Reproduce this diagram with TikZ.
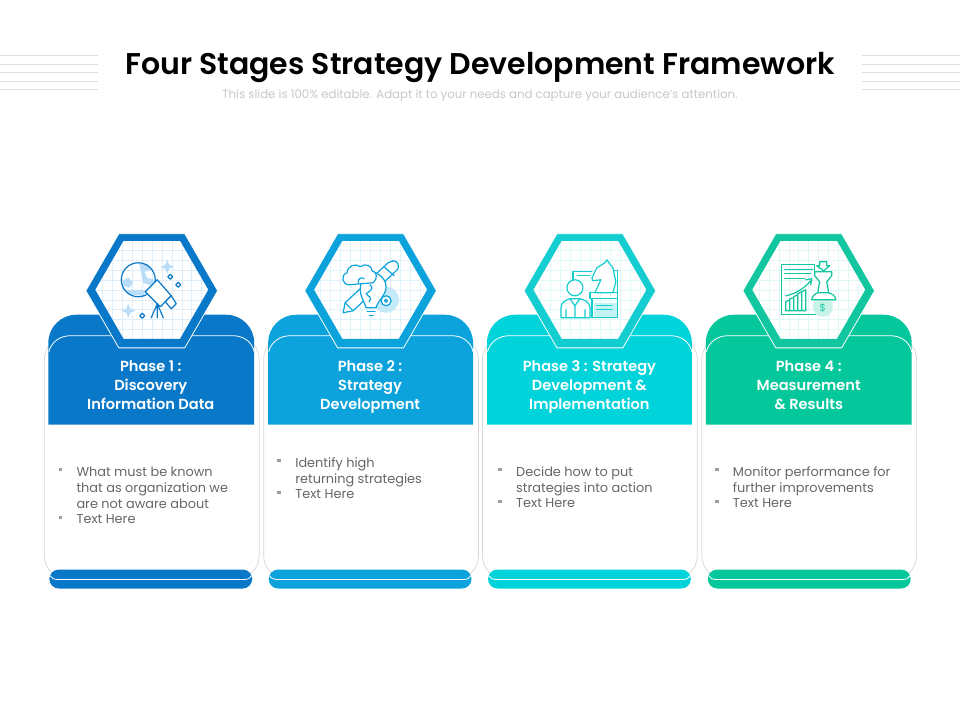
\documentclass[tikz,border=0pt]{standalone}
\usepackage{fontspec}
\setmainfont[BoldFont={Poppins SemiBold}]{Poppins}
\usetikzlibrary{shapes,positioning,calc}

\definecolor{phaseone}{HTML}{0A78C8}
\definecolor{phasetwo}{HTML}{0CA3DD}
\definecolor{phasethree}{HTML}{00D3DA}
\definecolor{phasefour}{HTML}{04C79C}
\definecolor{ringthree}{HTML}{14CDD0}
\definecolor{ringfour}{HTML}{12C6A0}
\definecolor{patchone}{HTML}{B9DDF8}
\definecolor{patchtwo}{HTML}{C4E9F8}
\definecolor{patchthree}{HTML}{C4F3F4}
\definecolor{patchfour}{HTML}{C8F3E8}

\begin{document}
\begin{tikzpicture}[
    x=1pt, y=-1pt,
    % Define styles
    sideline/.style={draw=black!13, line width=0.8pt},
    titletext/.style={font=\fontsize{30}{36}\bfseries\selectfont, text=black, inner sep=0},
    subtext/.style={font=\fontsize{11.75}{14}\selectfont, text=black!22, inner sep=0},
    cardbox/.style={draw=black!16, line width=0.7pt, rounded corners=24pt,
        minimum width=215pt, minimum height=244pt},
    headtext/.style={font=\fontsize{14.6}{19}\bfseries\selectfont, text=white, align=center, inner sep=0},
    bodytext/.style={font=\fontsize{12.9}{16}\selectfont, text=black!60, align=left, anchor=north west, inner sep=0},
    bulletbox/.style={fill=black!38, minimum size=3.4pt, inner sep=0},
    barbox/.style={fill=#1, rounded corners=9.5pt, minimum height=19pt, inner sep=0},
    whiteline/.style={draw=white, line width=0.8pt},
    hexbox/.style={
        regular polygon, regular polygon sides=6, minimum size=119pt, inner sep=0,
        draw=#1, line width=5pt, fill=white,
        path picture={\draw[#1!13, line width=0.5pt, step=10pt]
            (path picture bounding box.south west) grid (path picture bounding box.north east);}
    },
    hexhalo/.style={regular polygon, regular polygon sides=6, minimum size=132pt, inner sep=0,
        draw=white, line width=0.8pt, fill=#1},
    icon/.style={draw=#1, line width=1.2pt, line join=round, line cap=round}
]

% Title
\node[titletext] (title) at (480,68) {Four Stages Strategy Development Framework};
\node[subtext] (subtitle) at (480,96) {This slide is 100\% editable. Adapt it to your needs and capture your audience's attention.};

% Side lines
\draw[sideline] (0,55) -- (98,55) (0,64) -- (98,64) (0,72) -- (98,72) (0,81) -- (98,81) (0,89) -- (98,89);
\draw[sideline] (862,55) -- (960,55) (862,64) -- (960,64) (862,72) -- (960,72) (862,81) -- (960,81) (862,89) -- (960,89);

% Phase 1
\node[cardbox] (card1) at (151.5,458) {};
\fill[phaseone] (48,425) {[rounded corners=28pt] -- (48,315) -- (254,315)} -- (254,425) -- cycle;
\draw[whiteline] (48.5,352) .. controls (51,342) and (60,336) .. (70,336) -- (233,336) .. controls (243,336) and (252,342) .. (254,352);
\node[barbox=phaseone, minimum width=203pt] (bar1) at (150.5,579.5) {};
\draw[whiteline] (49.5,576) .. controls (51,579) and (54,580) .. (58,580) -- (243,580) .. controls (248,580) and (250,579) .. (251.5,576);
\node[hexhalo=phaseone] (halo1) at (151.5,291) {};
\node[hexbox=phaseone] (hex1) at (151.5,290) {};
\node[headtext] (head1) at (150.5,385.5) {Phase 1 :\\Discovery\\Information Data};
\node[bulletbox] (dot11) at (60,470) {};
\node[bodytext] (text11) at (76,467) {What must be known\\that as organization we\\are not aware about};
\node[bulletbox] (dot12) at (60,518) {};
\node[bodytext] (text12) at (76,515) {Text Here};

% Icon 1
\fill[patchone] (167,260) -- (169,265) -- (174,267) -- (169,269) -- (167,274) -- (165,269) -- (160,267) -- (165,265) -- cycle;
\fill[patchone] (128,304) -- (130,309) -- (135,311) -- (130,313) -- (128,318) -- (126,313) -- (121,311) -- (126,309) -- cycle;
\fill[patchone] (139,264) -- (147,264) -- (152,270) -- (144,272) -- (147,278) -- (154,280) -- (152,286) -- (143,283) -- cycle;
\fill[patchone] (122,281) -- (128,278) -- (133,283) -- (129,288) -- (123,286) -- cycle;
\fill[patchone] (125,290) -- (147,290) -- (143,296) -- (130,295) -- cycle;
\draw[icon=phaseone] (138,280) circle (17);
\draw[icon=phaseone, fill=white] (145,292) -- (157,280) -- (171,296) -- (160,307) -- cycle;
\draw[icon=phaseone, fill=white] (165,302) -- (171,296) -- (176,304) -- (171,309) -- cycle;
\draw[icon=phaseone] (157,304) -- (151,318) (157,304) -- (157,318) (157,304) -- (163,318);
\draw[icon=phaseone, fill=white] (170,274.5) -- (172.5,277) -- (170,279.5) -- (167.5,277) -- cycle;
\draw[icon=phaseone, fill=white] (178,282.5) -- (180.5,285) -- (178,287.5) -- (175.5,285) -- cycle;
\draw[icon=phaseone, fill=white] (142,313.5) -- (144.5,316) -- (142,318.5) -- (139.5,316) -- cycle;

% Phase 2
\node[cardbox] (card2) at (371,458) {};
\fill[phasetwo] (268,425) {[rounded corners=28pt] -- (268,315) -- (473,315)} -- (473,425) -- cycle;
\draw[whiteline] (268.5,352) .. controls (271,342) and (280,336) .. (290,336) -- (452,336) .. controls (462,336) and (471,342) .. (473,352);
\node[barbox=phasetwo, minimum width=203pt] (bar2) at (370,579.5) {};
\draw[whiteline] (269,576) .. controls (271,579) and (274,580) .. (278,580) -- (463,580) .. controls (467,580) and (470,579) .. (471,576);
\node[hexhalo=phasetwo] (halo2) at (370.5,291) {};
\node[hexbox=phasetwo] (hex2) at (370.5,290) {};
\node[headtext] (head2) at (370,387) {Phase 2 :\\Strategy\\Development};
\node[bulletbox] (dot21) at (279,461) {};
\node[bodytext] (text21) at (295,458) {Identify high\\returning strategies};
\node[bulletbox] (dot22) at (279,493) {};
\node[bodytext] (text22) at (295,490) {Text Here};

% Icon 2
\fill[patchtwo] (386,300) circle (13);
\draw[icon=phasetwo, fill=white] (343,313) -- (345,303) -- (388,263) -- (393,261) .. controls (398,261) and (399,266) .. (398,269) -- (394,273) -- (353,311) -- cycle;
\draw[icon=phasetwo] (345,303) -- (353,311) (384,267) -- (394,276);
\draw[icon=phasetwo, fill=white] (386,301) circle (5);
\draw[icon=phasetwo] (386,301) circle (1.5);
\draw[icon=phasetwo, fill=white] (361,283) .. controls (358,296) and (364,300) .. (366,308) -- (376,308) .. controls (378,300) and (386,296) .. (386,287) .. controls (386,279) and (378,272) .. (370,272) -- cycle;
\draw[icon=phasetwo] (366,308) -- (376,308) (367,312) -- (375,312) (369,316) -- (373,316);
\draw[icon=phasetwo, fill=white] (349,285) .. controls (342,285) and (340,275) .. (347,273) .. controls (347,266) and (356,263) .. (360,267) .. controls (365,263) and (372,266) .. (372,271) .. controls (377,272) and (378,279) .. (373,283) -- cycle;
\draw[icon=phasetwo] (358,283) .. controls (358,278) and (362,277) .. (364,279) (370,285) .. controls (375,290) and (368,292) .. (366,294) .. controls (368,297) and (373,297) .. (369,302);

% Phase 3
\node[cardbox] (card3) at (590,458) {};
\fill[phasethree] (487,425) {[rounded corners=28pt] -- (487,315) -- (692,315)} -- (692,425) -- cycle;
\draw[whiteline] (487.5,352) .. controls (490,342) and (499,336) .. (509,336) -- (671,336) .. controls (681,336) and (690,342) .. (692,352);
\node[barbox=phasethree, minimum width=203pt] (bar3) at (589.5,579.5) {};
\draw[whiteline] (488.5,576) .. controls (490,579) and (493,580) .. (497,580) -- (682,580) .. controls (687,580) and (689,579) .. (690.5,576);
\node[hexhalo=ringthree] (halo3) at (590,291) {};
\node[hexbox=ringthree] (hex3) at (590,290) {};
\node[headtext] (head3) at (589.5,387) {Phase 3 : Strategy\\Development \&\\Implementation};
\node[bulletbox] (dot31) at (500,470) {};
\node[bodytext] (text31) at (516,467) {Decide how to put\\strategies into action};
\node[bulletbox] (dot32) at (500,502) {};
\node[bodytext] (text32) at (516,499) {Text Here};

% Icon 3
\draw[icon=ringthree] (573,280) -- (573,272) -- (592,272) (577,276) -- (590,276);
\draw[icon=ringthree] (613,271) -- (618,271) -- (618,294);
\fill[patchthree] (594,303) rectangle (618,318);
\draw[icon=ringthree, fill=white] (595,293) -- (601,280) -- (593,281) -- (592,278) -- (597,268) -- (605,263) -- (607,260) -- (609,263) -- (613,268) -- (616,282) -- (613,293) -- cycle;
\draw[icon=ringthree] (590,293) rectangle (618,299) (592,299) -- (592,318) -- (618,318) -- (618,299);
\draw[icon=ringthree] (597,306) -- (612,306) (597,310) -- (612,310);
\draw[icon=ringthree, fill=white] (575,288) circle (8);
\draw[icon=ringthree, fill=white] (561,318) -- (561,308) .. controls (561,302) and (567,300) .. (570,299) -- (580,299) .. controls (584,300) and (590,302) .. (590,308) -- (590,318) -- cycle;
\draw[icon=ringthree] (570,299) -- (575,306) -- (580,299) (575,306) -- (575,318) (566,310) -- (566,318) (585,310) -- (585,318);

% Phase 4
\node[cardbox] (card4) at (809.5,458) {};
\fill[phasefour] (706,425) {[rounded corners=28pt] -- (706,315) -- (912,315)} -- (912,425) -- cycle;
\draw[whiteline] (706.5,352) .. controls (709,342) and (718,336) .. (728,336) -- (891,336) .. controls (901,336) and (910,342) .. (912,352);
\node[barbox=phasefour, minimum width=203pt] (bar4) at (809.5,579.5) {};
\draw[whiteline] (708.5,576) .. controls (710,579) and (713,580) .. (717,580) -- (902,580) .. controls (907,580) and (909,579) .. (910.5,576);
\node[hexhalo=ringfour] (halo4) at (809,291) {};
\node[hexbox=ringfour] (hex4) at (809,290) {};
\node[headtext] (head4) at (809,385.5) {Phase 4 :\\Measurement\\\& Results};
\node[bulletbox] (dot41) at (717,470) {};
\node[bodytext] (text41) at (733,467) {Monitor performance for\\further improvements};
\node[bulletbox] (dot42) at (717,502) {};
\node[bodytext] (text42) at (733,499) {Text Here};

% Icon 4
\draw[icon=ringfour] (815,276) -- (815,265) -- (782,265) -- (782,315) -- (816,315);
\draw[icon=ringfour] (785,270) -- (813,270) (785,274) -- (811,274) (785,279) -- (805,279);
\draw[icon=ringfour] (786,296) .. controls (796,294) and (804,289) .. (811,281) (806,280) -- (812,279) -- (811,285);
\draw[icon=ringfour] (786,311) -- (786,302) -- (790,300) -- (790,311) (790,311) -- (790,299) -- (794,298) -- (794,311) (794,297) -- (798,295) -- (798,311) (798,294) -- (802,292) -- (802,311) (802,292) -- (806,290) -- (806,311) -- (786,311);
\fill[patchfour] (823,307) circle (10);
\draw[icon=ringfour, fill=white] (820,262) -- (827,262) -- (827,266) -- (830,266) -- (824,271) -- (817,266) -- (820,266) -- cycle;
\draw[icon=ringfour, fill=white] (815,272) -- (832,272) -- (832,276) -- (827,282) -- (829,293) -- (818,293) -- (820,282) -- (815,276) -- cycle;
\draw[icon=ringfour, fill=white] (812,300) .. controls (812,296) and (816,294) .. (818,293) -- (829,293) .. controls (832,294) and (836,296) .. (836,300) -- cycle;
\node[font=\fontsize{10}{10}\selectfont, text=ringfour, inner sep=0] (dollar) at (823,308) {\$};

\useasboundingbox (0,0) rectangle (960,720);
\end{tikzpicture}
\end{document}
